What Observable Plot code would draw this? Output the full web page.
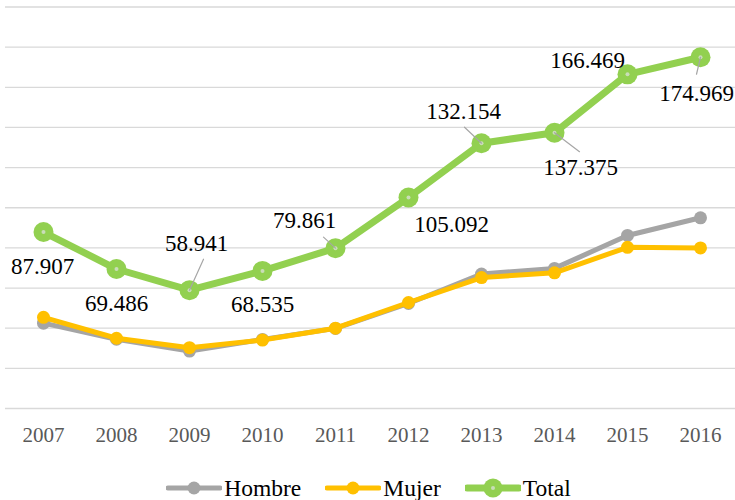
<!DOCTYPE html>
<html><head><meta charset="utf-8">
<script src="https://cdn.jsdelivr.net/npm/d3@7"></script>
<script src="https://cdn.jsdelivr.net/npm/@observablehq/plot@0.6"></script>
<style>
html,body{margin:0;padding:0;background:#fff;overflow:hidden;}
body{font-family:"Liberation Serif","Times New Roman",serif;}
#legend{display:flex;justify-content:center;align-items:center;height:36px;font-size:23.5px;color:#000;padding-left:2px;}
.item{display:flex;align-items:center;margin:0 12px;}
.item svg{margin-right:2px;}
</style></head><body>
<div id="chart"></div>
<div id="legend"></div>
<script>
// ---- data ----
const years = [2007, 2008, 2009, 2010, 2011, 2012, 2013, 2014, 2015, 2016];
const hombre = [42.5, 34.5, 28.6, 34.4, 39.9, 52.3, 67.0, 69.8, 86.2, 95.0];
const mujer  = [45.4, 35.0, 30.3, 34.1, 40.0, 52.8, 65.2, 67.6, 80.3, 80.0];
const total  = [87.907, 69.486, 58.941, 68.535, 79.861, 105.092, 132.154, 137.375, 166.469, 174.969];
const totalLabels = ["87.907", "69.486", "58.941", "68.535", "79.861", "105.092", "132.154", "137.375", "166.469", "174.969"];
const seriesNames = ["Hombre", "Mujer", "Total"];
const seriesColors = ["#A5A5A5", "#FFC000", "#92D050"];
const yTicks = [0, 20, 40, 60, 80, 100, 120, 140, 160, 180, 200];

// ---- manual label placement (pixel offsets from the point, like Excel's dragged labels) ----
const labelDx = [-1, 0, 7, 0, -31, 43, -18, 26, -40, -4];
const labelDy = [35, 35, -47, 34, -28, 27, -32, 35, -14, 36];
const leaderIdx = [2, 4, 6, 7, 9];
const leaderDx = [14, -12, -17, 25, -4];
const leaderDy = [-31, -11, -16, 19, 17];

const series = [hombre, mujer, total];
const rows = [];
series.forEach((vals, s) => years.forEach((yr, i) => rows.push({serie: seriesNames[s], year: yr, value: vals[i]})));
const totalRows = years.map((yr, i) => ({year: yr, value: total[i], label: totalLabels[i], dx: labelDx[i], dy: labelDy[i]}));
const leaders = leaderIdx.map((i, k) => ({
  year: years[i], value: total[i],
  len: Math.hypot(leaderDx[k], leaderDy[k]),
  rot: Math.atan2(leaderDx[k], -leaderDy[k]) * 180 / Math.PI
}));

const byName = n => rows.filter(r => r.serie === n);
const lineShape = {draw(ctx, l) { ctx.moveTo(0, 0); ctx.lineTo(0, -l); }};
const serif = "'Liberation Serif','Times New Roman',serif";

const chart = Plot.plot({
  width: 735,
  height: 470,
  marginLeft: 5,
  marginRight: -2,
  marginTop: 6.5,
  marginBottom: 62,
  style: {fontFamily: serif, background: "#fff", color: "#595959"},
  x: {type: "point", domain: years, padding: 0.5, label: null},
  y: {domain: [0, 200], axis: null},
  length: {type: "identity"},
  marks: [
    Plot.ruleY(yTicks, {stroke: "#D9D9D9", strokeWidth: 1.3}),
    Plot.axisX({tickSize: 0, tickPadding: 19, fontSize: 21, tickFormat: d => `${d}`, fill: "#595959", label: null, fontFamily: serif}),
    Plot.line(byName("Hombre"), {x: "year", y: "value", stroke: seriesColors[0], strokeWidth: 5}),
    Plot.dot(byName("Hombre"), {x: "year", y: "value", r: 6.5, fill: seriesColors[0]}),
    Plot.line(byName("Mujer"), {x: "year", y: "value", stroke: seriesColors[1], strokeWidth: 5}),
    Plot.dot(byName("Mujer"), {x: "year", y: "value", r: 6.5, fill: seriesColors[1]}),
    Plot.line(byName("Total"), {x: "year", y: "value", stroke: seriesColors[2], strokeWidth: 7}),
    Plot.dot(byName("Total"), {x: "year", y: "value", r: 10, fill: seriesColors[2]}),
    Plot.dot(byName("Total"), {x: "year", y: "value", r: 2, fill: "#C9DDB8"}),
    Plot.vector(leaders, {x: "year", y: "value", length: "len", rotate: "rot", anchor: "start", shape: lineShape, stroke: "#A6A6A6", strokeWidth: 1.2}),
    ...totalRows.map(d => Plot.text([d], {x: "year", y: "value", text: "label", dx: d.dx, dy: d.dy, fontSize: 23, fill: "#000", fontFamily: serif}))
  ]
});
document.getElementById("chart").appendChild(chart);

// ---- legend ----
const legend = d3.select("#legend");
seriesNames.forEach((name, s) => {
  const it = legend.append("div").attr("class", "item");
  const svg = it.append("svg").attr("width", 56).attr("height", 22);
  const big = s === 2;
  svg.append("line").attr("x1", 2).attr("x2", 54).attr("y1", 11).attr("y2", 11)
    .attr("stroke", seriesColors[s]).attr("stroke-width", big ? 7 : 5).attr("stroke-linecap", "round");
  svg.append("circle").attr("cx", 28).attr("cy", 11).attr("r", big ? 9.5 : 6.5).attr("fill", seriesColors[s]);
  if (big) svg.append("circle").attr("cx", 28).attr("cy", 11).attr("r", 2).attr("fill", "#C9DDB8");
  it.append("span").text(name);
});
</script>
</body></html>
